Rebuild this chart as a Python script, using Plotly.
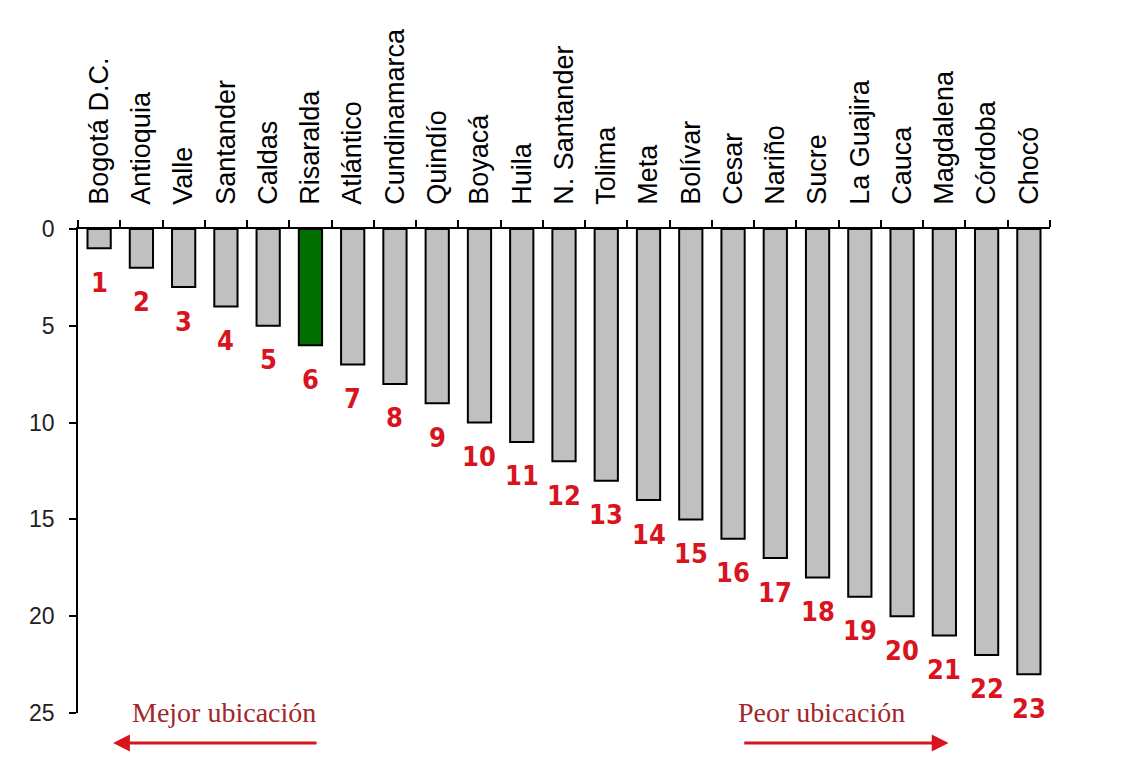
import plotly.graph_objects as go

# Departmental ranking (1 = best position)
departamentos = [
    "Bogotá D.C.", "Antioquia", "Valle", "Santander", "Caldas", "Risaralda",
    "Atlántico", "Cundinamarca", "Quindío", "Boyacá", "Huila", "N. Santander",
    "Tolima", "Meta", "Bolívar", "Cesar", "Nariño", "Sucre", "La Guajira",
    "Cauca", "Magdalena", "Córdoba", "Chocó",
]
puesto = [1, 2, 3, 4, 5, 6, 7, 8, 9, 10, 11, 12, 13, 14, 15, 16, 17, 18, 19,
          20, 21, 22, 23]
destacado = "Risaralda"
y_ticks = [0, 5, 10, 15, 20, 25]

GRAY = "#c0c0c0"
GREEN = "#006f00"
RED = "#d8141e"
DARK_RED = "#a3262a"

colors = [GREEN if d == destacado else GRAY for d in departamentos]

fig = go.Figure()
fig.add_trace(go.Bar(
    x=departamentos,
    y=puesto,
    marker=dict(color=colors, line=dict(color="black", width=2)),
    width=0.55,
    hoverinfo="x+y",
))

# rank numbers under each bar
for d, p in zip(departamentos, puesto):
    fig.add_annotation(
        x=d, y=p, xref="x", yref="y",
        text=f"<b>{p}</b>", showarrow=False,
        yanchor="middle", yshift=-34,
        font=dict(family="DejaVu Sans Condensed, Liberation Sans Narrow, Arial Narrow, Liberation Sans, sans-serif",
                  size=27, color=RED),
    )

n = len(departamentos)
serif = "Liberation Serif, Times New Roman, serif"

# direction hints below the axis
fig.add_annotation(x=2.96, y=-0.035, xref="x", yref="y domain", text="Mejor ubicación",
                   showarrow=False, font=dict(family=serif, size=28, color=DARK_RED))
fig.add_annotation(x=0.33, y=-0.062, ax=5.18, ay=-0.062, xref="x", yref="y domain",
                   axref="x", ayref="y domain", text="", showarrow=True,
                   arrowhead=2, arrowsize=1.2, arrowwidth=2.8, arrowcolor=RED)
fig.add_annotation(x=17.1, y=-0.035, xref="x", yref="y domain", text="Peor ubicación",
                   showarrow=False, font=dict(family=serif, size=28, color=DARK_RED))
fig.add_annotation(x=20.1, y=-0.062, ax=15.23, ay=-0.062, xref="x", yref="y domain",
                   axref="x", ayref="y domain", text="", showarrow=True,
                   arrowhead=2, arrowsize=1.2, arrowwidth=2.8, arrowcolor=RED)

fig.update_layout(
    width=1147, height=773,
    margin=dict(l=78, r=97, t=229, b=60),
    paper_bgcolor="white", plot_bgcolor="white",
    showlegend=False,
    xaxis=dict(
        side="top", type="category",
        range=[-0.5, n - 0.5],
        tickangle=-90,
        tickson="boundaries",
        ticks="outside", ticklen=7, tickwidth=1.8, tickcolor="black",
        showline=True, linecolor="black", linewidth=1.8,
        showgrid=False, zeroline=False,
        ticklabelstandoff=17,
        tickfont=dict(family="Liberation Sans, Arial, sans-serif", size=27, color="black"),
    ),
    yaxis=dict(
        range=[25, 0],
        tickvals=y_ticks,
        ticks="outside", ticklen=7, tickwidth=1.8, tickcolor="black",
        showline=True, linecolor="black", linewidth=1.8,
        showgrid=False, zeroline=False,
        ticklabelstandoff=10,
        tickfont=dict(family="Liberation Sans, Arial, sans-serif", size=23, color="#222222"),
    ),
)

fig.write_html("out.html")
